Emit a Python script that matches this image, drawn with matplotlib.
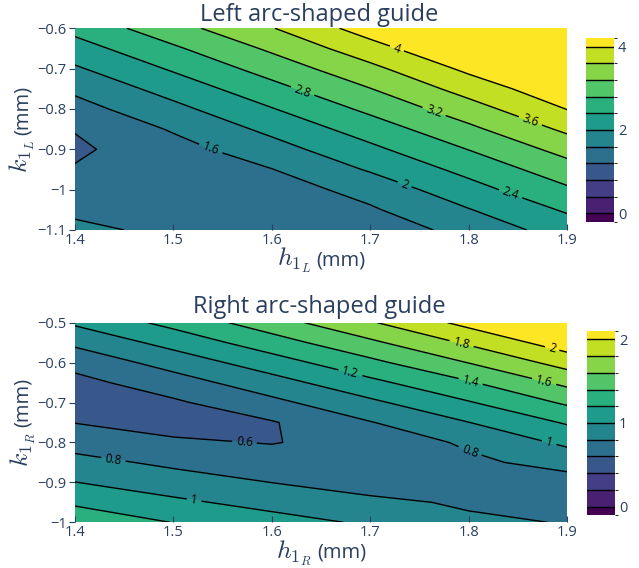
import numpy as np
import matplotlib
matplotlib.use("Agg")
import matplotlib.pyplot as plt
from matplotlib.colors import ListedColormap, BoundaryNorm
from matplotlib.cm import ScalarMappable

plt.rcParams["font.family"] = ["Open Sans", "DejaVu Sans"]
plt.rcParams["mathtext.fontset"] = "cm"

TEXT = "#2a3f5f"
W, H = 639, 568

h_vals = [1.4, 1.5, 1.6, 1.7, 1.8, 1.9]

# left guide: rows follow k_left, columns follow h_vals
k_left = [-1.1, -1.05, -1.0, -0.95, -0.9, -0.85, -0.8, -0.75, -0.7, -0.65, -0.6]
z_left = [
    [1.68, 1.52, 1.36, 1.35, 1.74, 2.18],
    [1.53, 1.42, 1.38, 1.55, 1.98, 2.45],
    [1.39, 1.32, 1.40, 1.75, 2.25, 2.74],
    [1.23, 1.36, 1.59, 2.04, 2.52, 3.03],
    [1.13, 1.45, 1.84, 2.31, 2.81, 3.34],
    [1.22, 1.64, 2.10, 2.59, 3.11, 3.68],
    [1.45, 1.89, 2.38, 2.89, 3.43, 4.01],
    [1.68, 2.16, 2.67, 3.19, 3.76, 4.30],
    [1.95, 2.45, 2.97, 3.50, 4.09, 4.60],
    [2.23, 2.74, 3.27, 3.84, 4.43, 4.95],
    [2.52, 3.05, 3.58, 4.19, 4.76, 5.30],
]
levels_left = [0, 0.4, 0.8, 1.2, 1.6, 2.0, 2.4, 2.8, 3.2, 3.6, 4.0]
cbar_ticks_left = [0, 2, 4]
yticks_left = [-1.1, -1.0, -0.9, -0.8, -0.7, -0.6]

# right guide
k_right = [-1.0, -0.95, -0.9, -0.85, -0.8, -0.75, -0.7, -0.65, -0.6, -0.55, -0.5]
z_right = [
    [1.33, 1.195, 1.08, 0.97, 0.84, 0.79],
    [1.17, 1.04, 0.93, 0.85, 0.77, 0.74],
    [1.003, 0.89, 0.798, 0.70, 0.71, 0.72],
    [0.86, 0.76, 0.70, 0.65, 0.76, 0.87],
    [0.725, 0.63, 0.59, 0.68, 0.83, 1.04],
    [0.595, 0.52, 0.585, 0.79, 0.997, 1.22],
    [0.50, 0.57, 0.75, 0.96, 1.185, 1.43],
    [0.54, 0.71, 0.92, 1.15, 1.38, 1.65],
    [0.665, 0.88, 1.11, 1.35, 1.605, 1.88],
    [0.84, 1.07, 1.31, 1.56, 1.83, 2.11],
    [1.03, 1.26, 1.51, 1.78, 2.06, 2.34],
]
levels_right = [0, 0.2, 0.4, 0.6, 0.8, 1.0, 1.2, 1.4, 1.6, 1.8, 2.0]
cbar_ticks_right = [0, 1, 2]
yticks_right = [-1.0, -0.9, -0.8, -0.7, -0.6, -0.5]

# where the contour labels sit
labels_left = [(1.727, -0.651), (1.862, -0.834), (1.765, -0.805), (1.632, -0.751),
               (1.843, -1.008), (1.735, -0.987), (1.539, -0.892)]
labels_right = [(1.885, -0.563), (1.793, -0.551), (1.877, -0.644), (1.802, -0.647),
                (1.680, -0.623), (1.882, -0.799), (1.803, -0.809), (1.572, -0.806),
                (1.439, -0.843), (1.521, -0.945)]


def fmt_tick(v):
    return ("%g" % v).replace("-", "\u2212")


def axis_title(fig, ax, math, unit, vertical, offset):
    # math part is drawn bigger than the "(mm)" part, like MathJax does
    renderer = fig.canvas.get_renderer()
    rot = 90 if vertical else 0
    t1 = fig.text(0, 0, math, fontsize=18.5, color=TEXT, rotation=rot,
                  rotation_mode="anchor", ha="left", va="baseline")
    t2 = fig.text(0, 0, unit, fontsize=14.5, color=TEXT, rotation=rot,
                  rotation_mode="anchor", ha="left", va="baseline")
    b1 = t1.get_window_extent(renderer)
    b2 = t2.get_window_extent(renderer)
    box = ax.get_window_extent(renderer)
    gap = 5
    if vertical:
        total = b1.height + gap + b2.height
        start = (box.y0 + box.y1) / 2 - total / 2
        x = box.x0 - offset
        t1.set_position((x / W, start / H))
        t2.set_position((x / W, (start + b1.height + gap) / H))
    else:
        total = b1.width + gap + b2.width
        start = (box.x0 + box.x1) / 2 - total / 2
        y = box.y0 - offset
        t1.set_position((start / W, y / H))
        t2.set_position(((start + b1.width + gap) / W, y / H))


def draw_panel(fig, ax, cax, k_vals, z, levels, title, title_y, hname, kname,
               label_pos, cbar_ticks, yticks, xoff):
    n = len(levels) + 1
    colors = [plt.cm.viridis(t) for t in np.linspace(0, 1, n)]
    ax.contourf(h_vals, k_vals, z, levels=levels, colors=colors, extend="both")
    lines = ax.contour(h_vals, k_vals, z, levels=levels, colors="black", linewidths=1)
    ax.clabel(lines, manual=label_pos, fmt="%g", fontsize=8.5, inline_spacing=4)

    ax.set_xlim(h_vals[0], h_vals[-1])
    ax.set_ylim(k_vals[0], k_vals[-1])
    for s in ax.spines.values():
        s.set_visible(False)
    ax.set_xticks(h_vals)
    ax.set_xticklabels([fmt_tick(v) for v in h_vals])
    ax.set_yticks(yticks)
    ax.set_yticklabels([fmt_tick(v) for v in yticks])
    ax.tick_params(axis="x", direction="in", length=4, color=TEXT, labelsize=10.5,
                   labelcolor=TEXT, pad=2)
    ax.tick_params(axis="y", direction="out", length=4, color=TEXT, labelsize=10.5,
                   labelcolor=TEXT, pad=2)
    fig.text(0.5, title_y, title, ha="center", va="center", fontsize=17, color=TEXT)

    step = levels[1] - levels[0]
    bounds = [levels[0] - step / 2] + list(levels) + [levels[-1] + step / 2]
    norm = BoundaryNorm(bounds, n)
    cb = fig.colorbar(ScalarMappable(norm=norm, cmap=ListedColormap(colors)), cax=cax,
                      spacing="proportional", ticks=cbar_ticks)
    cb.outline.set_visible(False)
    cb.ax.set_yticklabels([fmt_tick(v) for v in cbar_ticks])
    cb.ax.tick_params(length=0, labelsize=10.5, labelcolor=TEXT, pad=3)
    for lv in levels:
        cax.axhline(lv, color="black", linewidth=1)

    axis_title(fig, ax, hname, "(mm)", False, xoff)
    axis_title(fig, ax, kname, "(mm)", True, 47)


fig = plt.figure(figsize=(W / 100, H / 100), dpi=100)
ax1 = fig.add_axes([0.1174, 0.5951, 0.770, 0.3551])
cax1 = fig.add_axes([0.917, 0.6097, 0.0438, 0.3229])
ax2 = fig.add_axes([0.1174, 0.0805, 0.770, 0.3514])
cax2 = fig.add_axes([0.9186, 0.0933, 0.0438, 0.324])

draw_panel(fig, ax1, cax1, k_left, z_left, levels_left, "Left arc-shaped guide", 0.973,
           r"$h_{1_L}$", r"$k_{1_L}$", labels_left, cbar_ticks_left, yticks_left, 36)
draw_panel(fig, ax2, cax2, k_right, z_right, levels_right, "Right arc-shaped guide", 0.459,
           r"$h_{1_R}$", r"$k_{1_R}$", labels_right, cbar_ticks_right, yticks_right, 35)

fig.savefig("out.png", dpi=100, facecolor="white")
